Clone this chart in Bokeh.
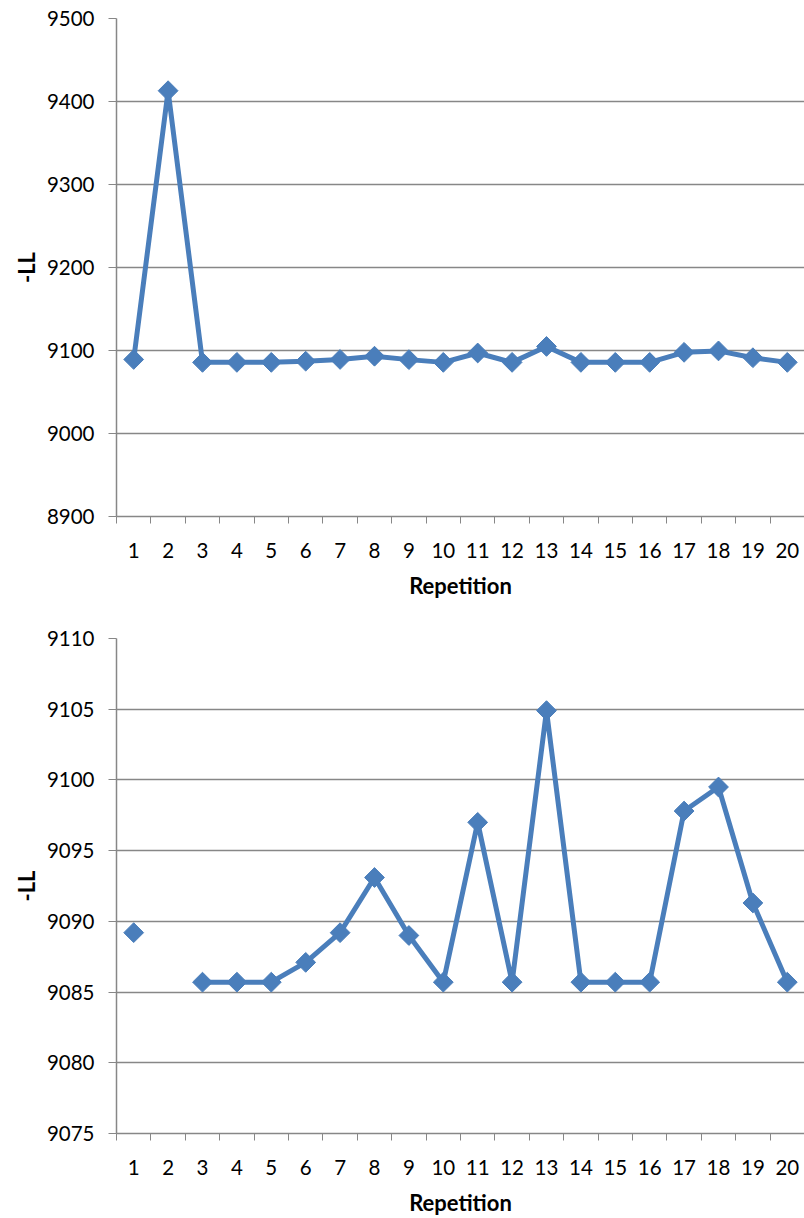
import numpy as np
from bokeh.plotting import figure
from bokeh.layouts import column
from bokeh.models import Range1d, FixedTicker, ColumnDataSource
from bokeh.embed import file_html
from bokeh.resources import INLINE

# ---- data ----
repetition = list(range(1, 21))
neg_ll = [9089.2, 9413.0, 9085.7, 9085.7, 9085.7, 9087.1, 9089.2, 9093.1, 9089.0, 9085.7,
          9097.0, 9085.7, 9104.9, 9085.7, 9085.7, 9085.7, 9097.8, 9099.5, 9091.3, 9085.7]
top_yticks = [8900, 9000, 9100, 9200, 9300, 9400, 9500]
bottom_yticks = [9075, 9080, 9085, 9090, 9095, 9100, 9105, 9110]
x_label = "Repetition"
y_label = "-LL"

BLUE = "#4A7EBB"
GRAY = "#878787"
FONT = "Lato"


def make_chart(yticks, height, border_top, border_bottom, border_left, clip):
    ymin, ymax = yticks[0], yticks[-1]
    p = figure(width=804, height=height, output_backend="svg", toolbar_location=None,
               x_range=Range1d(0.5, 20.5), y_range=Range1d(ymin, ymax),
               min_border_left=border_left, min_border_right=0,
               min_border_top=border_top, min_border_bottom=border_bottom)
    p.outline_line_color = None
    p.background_fill_color = "white"
    p.border_fill_color = "white"

    xt = FixedTicker(ticks=repetition, minor_ticks=[r - 0.5 for r in repetition] + [20.5])
    p.xaxis.ticker = xt
    p.xaxis.major_label_overrides = {r: str(r) for r in repetition}
    p.xaxis.major_tick_line_color = None
    p.xaxis.major_tick_out = 0
    p.xaxis.major_tick_in = 0
    p.xaxis.minor_tick_out = 7
    p.xaxis.minor_tick_in = 0
    p.xaxis.minor_tick_line_color = GRAY
    p.xaxis.major_label_standoff = 19
    p.xaxis.axis_label = x_label
    p.xaxis.axis_label_standoff = 11

    p.yaxis.ticker = FixedTicker(ticks=yticks)
    p.yaxis.major_tick_out = 8
    p.yaxis.major_tick_in = 0
    p.yaxis.minor_tick_line_color = None
    p.yaxis.major_tick_line_color = GRAY
    p.yaxis.major_label_standoff = 14
    p.yaxis.axis_label = y_label
    p.yaxis.axis_label_standoff = 4

    for ax in (p.xaxis, p.yaxis):
        ax.axis_line_color = GRAY
        ax.axis_line_width = 1.5
        ax.major_label_text_font = FONT
        ax.major_label_text_font_size = "20.5px"
        ax.major_label_text_color = "black"
        ax.axis_label_text_font = FONT
        ax.axis_label_text_font_size = "22px"
        ax.axis_label_text_font_style = "bold"
        ax.axis_label_text_color = "black"

    p.xgrid.grid_line_color = None
    p.ygrid.ticker = FixedTicker(ticks=yticks)
    p.ygrid.grid_line_color = GRAY
    p.ygrid.grid_line_width = 1.5

    vals = [v if (not clip or v <= ymax) else np.nan for v in neg_ll]
    src = ColumnDataSource(dict(x=repetition, y=vals))
    p.line("x", "y", source=src, line_color=BLUE, line_width=5)
    p.scatter("x", "y", source=src, marker="square", angle=np.pi / 4, size=14,
              fill_color=BLUE, line_color=BLUE)
    return p


p1 = make_chart(top_yticks, 620, 18, 104, 108, False)
p2 = make_chart(bottom_yticks, 598, 18, 82, 116, True)

layout = column(p1, p2, spacing=0)
open("out.html", "w").write(file_html(layout, INLINE))
